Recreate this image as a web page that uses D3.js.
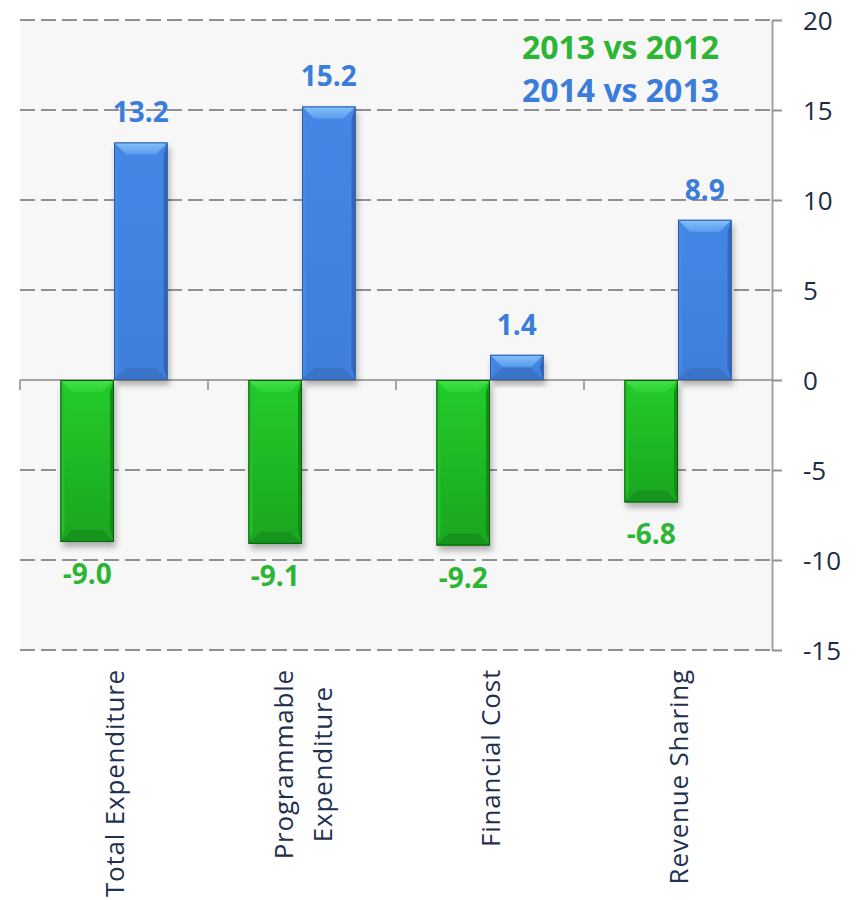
<!DOCTYPE html>
<html>
<head>
<meta charset="utf-8">
<script src="https://cdn.jsdelivr.net/npm/d3@7/dist/d3.min.js"></script>
<style>
  html, body { margin: 0; padding: 0; background: #ffffff; }
  svg { display: block; }
</style>
</head>
<body>
<svg id="chart" width="856" height="900"></svg>
<script>
// ---- data ----
const categories = ["Total Expenditure", "Programmable Expenditure", "Financial Cost", "Revenue Sharing"];
const categoryLines = [["Total Expenditure"], ["Programmable", "Expenditure"], ["Financial Cost"], ["Revenue Sharing"]];
const seriesNames = ["2013 vs 2012", "2014 vs 2013"];
const values2013vs2012 = [-9.0, -9.1, -9.2, -6.8];
const values2014vs2013 = [13.2, 15.2, 1.4, 8.9];
const yTicks = [-15, -10, -5, 0, 5, 10, 15, 20];

// ---- layout ----
const svg = d3.select("#chart");
const plotLeft = 20, plotRight = 772, plotTop = 20, plotBottom = 650;
const FONT = "'Open Sans', 'Noto Sans', sans-serif";
const hyphen = s => s.replace(/\u2212/g, "-");
const fmtVal = v => hyphen(d3.format(".1f")(v));
const fmtTick = v => hyphen(d3.format("d")(v));

const x0 = d3.scaleBand().domain(categories).range([plotLeft, plotRight]).paddingInner(0.43).paddingOuter(0.215);
const x1 = d3.scaleBand().domain(seriesNames).range([0, x0.bandwidth()]).padding(0);
const y = d3.scaleLinear().domain([-15, 20]).range([plotBottom, plotTop]);

const defs = svg.append("defs");
const f = defs.append("filter").attr("id", "shadow").attr("x", "-30%").attr("y", "-30%").attr("width", "160%").attr("height", "160%");
f.append("feDropShadow").attr("dx", 2).attr("dy", 5).attr("stdDeviation", 3).attr("flood-color", "#000").attr("flood-opacity", 0.3);

function grad(id, c1, c2) {
  const g = defs.append("linearGradient").attr("id", id).attr("x1", 0).attr("y1", 0).attr("x2", 0).attr("y2", 1);
  g.append("stop").attr("offset", "0%").attr("stop-color", c1);
  g.append("stop").attr("offset", "100%").attr("stop-color", c2);
}
grad("gGreen", "#24cc2b", "#1ba521");
grad("gBlue", "#4487e6", "#3f7fdc");
grad("gGreenTop", "#45e24c", "#2ad132");
grad("gBlueTop", "#86c2fb", "#5a9cec");

const styles = {
  "2013 vs 2012": { fill: "url(#gGreen)", top: "url(#gGreenTop)", bottom: "#14921a", rightSide: "#129016", leftSide: "#22c129", stroke: "#0b5c0e", text: "#2db535" },
  "2014 vs 2013": { fill: "url(#gBlue)", top: "url(#gBlueTop)", bottom: "#3a72c6", rightSide: "#3566b3", leftSide: "#478ae4", stroke: "#2c5da6", text: "#3b7ddb" }
};

// plot background
svg.append("rect").attr("x", plotLeft).attr("y", plotTop).attr("width", plotRight - plotLeft).attr("height", plotBottom - plotTop).attr("fill", "#f7f7f7");

// gridlines
svg.append("g").selectAll("line").data(yTicks.filter(d => d !== 0)).join("line")
  .attr("x1", plotLeft).attr("x2", plotRight)
  .attr("y1", d => y(d)).attr("y2", d => y(d))
  .attr("stroke", "#8e9196").attr("stroke-width", 2).attr("stroke-dasharray", "15,6");

// right axis
const axis = svg.append("g").attr("transform", `translate(${plotRight},0)`)
  .call(d3.axisRight(y).tickValues(yTicks).tickSizeInner(10).tickSizeOuter(0).tickPadding(21).tickFormat(fmtTick));
axis.select(".domain").attr("stroke", "#a3a3a3").attr("stroke-width", 2);
axis.selectAll(".tick line").attr("stroke", "#8e9196").attr("stroke-width", 2);
axis.selectAll(".tick text").attr("font-family", FONT).attr("font-size", 26).attr("fill", "#1e2b45").attr("dy", "0.36em");

// zero line and category ticks
svg.append("line").attr("x1", plotLeft).attr("x2", plotRight).attr("y1", y(0)).attr("y2", y(0))
  .attr("stroke", "#a3a3a3").attr("stroke-width", 2);
const boundaries = categories.map(c => x0(c) - x0.step() * 0.215);
svg.append("g").selectAll("line").data(boundaries).join("line")
  .attr("x1", d => d).attr("x2", d => d).attr("y1", y(0)).attr("y2", y(0) + 10)
  .attr("stroke", "#a3a3a3").attr("stroke-width", 2);

// bars
const rows = [];
categories.forEach((c, i) => {
  rows.push({ cat: c, series: seriesNames[0], value: values2013vs2012[i] });
  rows.push({ cat: c, series: seriesNames[1], value: values2014vs2013[i] });
});

svg.append("g").selectAll("g").data(rows).join("g").each(function (d) {
  const g = d3.select(this);
  const st = styles[d.series];
  const bx = x0(d.cat) + x1(d.series);
  const bw = x1.bandwidth();
  const by = Math.min(y(d.value), y(0));
  const bh = Math.abs(y(d.value) - y(0));
  const b = Math.min(12, bh / 2);
  const s = Math.min(4, bh / 2);
  g.append("rect").attr("x", bx).attr("y", by).attr("width", bw).attr("height", bh)
    .attr("fill", st.fill).attr("filter", "url(#shadow)");
  g.append("polygon").attr("points", [[bx, by], [bx + s, by + b], [bx + s, by + bh - b], [bx, by + bh]].join(" ")).attr("fill", st.leftSide);
  g.append("polygon").attr("points", [[bx + bw, by], [bx + bw - s, by + b], [bx + bw - s, by + bh - b], [bx + bw, by + bh]].join(" ")).attr("fill", st.rightSide);
  g.append("polygon").attr("points", [[bx, by], [bx + bw, by], [bx + bw - b, by + b], [bx + b, by + b]].join(" ")).attr("fill", st.top);
  g.append("polygon").attr("points", [[bx, by + bh], [bx + bw, by + bh], [bx + bw - b, by + bh - b], [bx + b, by + bh - b]].join(" ")).attr("fill", st.bottom).attr("opacity", 0.85);
  g.append("rect").attr("x", bx + 0.5).attr("y", by + 0.5).attr("width", bw - 1).attr("height", bh - 1)
    .attr("fill", "none").attr("stroke", st.stroke).attr("stroke-width", 1);
});

// value labels
svg.append("g").selectAll("text").data(rows).join("text")
  .attr("x", d => x0(d.cat) + x1(d.series) + x1.bandwidth() / 2)
  .attr("y", d => d.value >= 0 ? y(d.value) - 20 : y(d.value) + 42)
  .attr("text-anchor", "middle")
  .attr("font-family", FONT).attr("font-weight", 700).attr("font-size", 28)
  .attr("fill", d => styles[d.series].text)
  .text(d => fmtVal(d.value));

// legend text
svg.append("g").selectAll("text").data(seriesNames).join("text")
  .attr("x", 719).attr("y", (d, i) => 59 + i * 43)
  .attr("text-anchor", "end")
  .attr("font-family", FONT).attr("font-weight", 700).attr("font-size", 32)
  .attr("fill", d => styles[d].text)
  .text(d => d);

// category labels (rotated)
const labelTop = 669;
categories.forEach((c, i) => {
  const lines = categoryLines[i];
  const g = svg.append("g").attr("transform", `translate(${x0(c) + x0.bandwidth() / 2},${labelTop}) rotate(-90)`);
  const texts = g.selectAll("text").data(lines).join("text")
    .attr("font-family", FONT).attr("font-size", 26).attr("letter-spacing", 0.8)
    .attr("fill", "#1f3050")
    .attr("text-anchor", "middle")
    .attr("dominant-baseline", "central")
    .attr("y", (d, j) => (j - (lines.length - 1) / 2) * 39)
    .text(d => d);
  let maxLen = 0;
  texts.each(function () { maxLen = Math.max(maxLen, this.getComputedTextLength()); });
  texts.attr("x", -maxLen / 2);
});
</script>
</body>
</html>
